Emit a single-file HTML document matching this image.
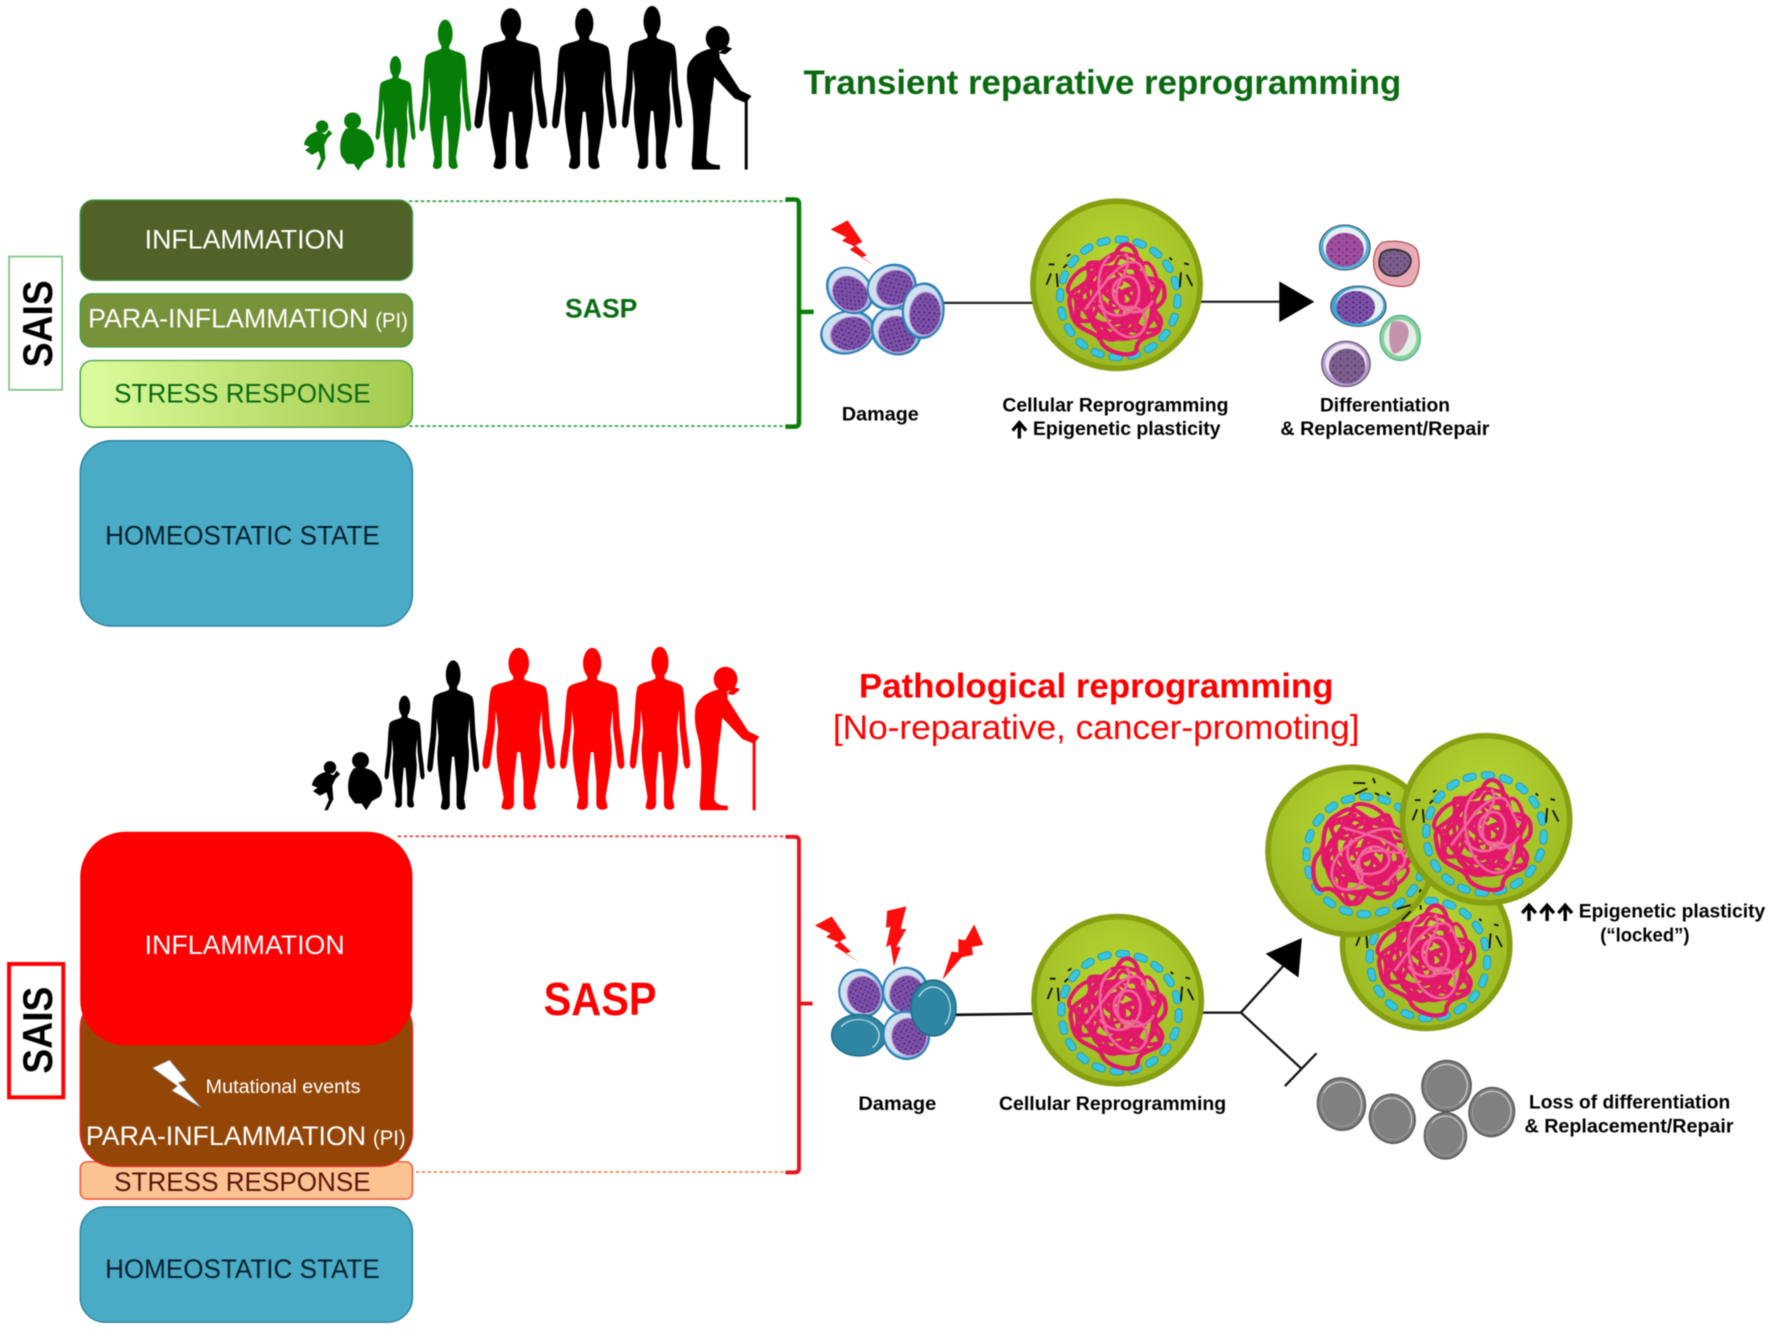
<!DOCTYPE html>
<html lang="en">
<head>
<meta charset="utf-8">
<title>Reprogramming diagram</title>
<style>
html,body{margin:0;padding:0;background:#fff}
svg{display:block;filter:blur(.4px)}
text{font-family:"Liberation Sans",sans-serif}
.b{font-weight:bold}
</style>
</head>
<body>
<svg xmlns="http://www.w3.org/2000/svg" width="1772" height="1329" viewBox="0 0 1568 1176">
<defs>
<linearGradient id="st" x1="0" x2="1" y1="0" y2="0"><stop offset="0" stop-color="#dcfd9e"/><stop offset="1" stop-color="#a3c94c"/></linearGradient>
<radialGradient id="cg" cx=".5" cy=".35" r=".7"><stop offset="0" stop-color="#b6d632"/><stop offset="1" stop-color="#9ab622"/></radialGradient>
<pattern id="dots" width="5" height="5" patternUnits="userSpaceOnUse"><rect width="5" height="5" fill="#7f52a8"/><circle cx="1.2" cy="1.2" r="1" fill="#4c2a80"/><circle cx="3.7" cy="3.5" r=".8" fill="#54308a"/></pattern>
<pattern id="dots2" width="6" height="6" patternUnits="userSpaceOnUse"><rect width="6" height="6" fill="#a04f9f"/><circle cx="1.5" cy="1.5" r="1" fill="#6e2a7c"/><circle cx="4.5" cy="4.2" r=".8" fill="#7a3388"/></pattern>
<pattern id="dots3" width="6" height="6" patternUnits="userSpaceOnUse"><rect width="6" height="6" fill="#7d5f8e"/><circle cx="1.5" cy="1.5" r="1" fill="#54386a"/><circle cx="4.5" cy="4.2" r=".8" fill="#5d4272"/></pattern>

<g id="person">
<ellipse cx="0" cy="9" rx="6.5" ry="9.5"/>
<path d="M-3.5 15 L-3.5 19 C-7 21 -14 21 -17 24 C-19 28 -19 42 -20 50 L-22 62 L-23 71 C-23 75 -19 76 -18 71 L-17 64 L-15 50 L-14.5 38 L-13 50 C-13 55 -14 58 -14 62 C-14 72 -11 84 -9.5 92 L-11 98 C-10 100.5 -3 100.5 -3 96 L-3 82 L-1 64 L1 64 L3 82 L3 96 C3 100.5 10 100.5 11 98 L9.5 92 C11 84 14 72 14 62 C14 58 13 55 13 50 L14.5 38 L15 50 L17 64 L18 71 C19 76 23 75 23 71 L22 62 L20 50 C19 42 19 28 17 24 C14 21 7 21 3.5 19 L3.5 15 Z"/>
</g>
<g id="baby">
<circle cx="285" cy="112" r="5.5"/>
<path d="M281 116 C274 118 270 122 269 128 L274 130 L270 133 L276 137 L282 134 L284 141 L280 150 L283 150 L288 140 L287 128 L290 122 L294 118 L291 115 L288 119 Z"/>
</g>
<g id="toddler">
<circle cx="312" cy="107" r="7.5"/>
<path d="M306 114 C301 120 300 130 302 138 L307 145 L313 145 L317 151 L322 143 L329 139 C333 134 331 124 325 118 C321 114 312 112 306 114 Z"/>
</g>
<g id="old">
<ellipse cx="635" cy="34" rx="10.5" ry="11"/>
<path d="M643 41 L648 43 L642 48 L636 47 Z"/>
<path d="M636 42 C622 43 608 50 608 64 C607 76 611 84 612 92 C615 112 613 130 612 146 L613 150 L637 150 L637 146 C630 146 626 144 625 140 C626 120 629 104 629 92 C631 84 631 78 632 68 L650 87 L660 91 L665 85 L655 80 L637 52 Z"/>
<rect x="659" y="86" width="2.6" height="64"/>
</g>

<g id="cellbody">
<ellipse rx="74" ry="74" fill="url(#cg)" stroke="#86a012" stroke-width="5"/>
</g>
<g id="ch1">
<path fill="none" d="M-38 8 C-44 -12 -20 -6 -24 -22 C-28 -36 -8 -20 -2 -36 C4 -50 18 -40 14 -24 C10 -8 34 -24 36 -6 C38 10 20 4 30 18 C40 32 14 26 14 40 C14 48 -10 44 -14 34 C-18 24 -36 28 -38 8 Z M-28 -10 C-10 -20 -14 10 4 -4 C20 -16 26 12 6 18 C-14 24 -6 -14 -20 14 C-26 26 0 34 10 24 C22 12 8 -20 18 -28 M-16 -28 C-12 -8 -30 4 -18 22 C-8 36 24 38 26 10 C28 -8 2 -26 -6 -8 C-12 6 12 12 16 -6 M-34 -4 C-20 8 -30 20 -10 22 C6 24 4 36 22 28"/>
</g>
<g id="nuc">
<circle r="52" fill="none" stroke="#1f9dbd" stroke-width="7" stroke-linecap="round" pathLength="200" stroke-dasharray="3.6 6.4"/>
<circle r="52" fill="none" stroke="#38c5e0" stroke-width="5.4" stroke-linecap="round" pathLength="200" stroke-dasharray="3.6 6.4"/>
<g stroke="#e2186a" stroke-width="3.4" stroke-linejoin="round">
<use href="#ch1" transform="scale(1.12)"/>
<use href="#ch1" transform="rotate(115) scale(1.02)"/>
<use href="#ch1" transform="rotate(235) scale(.9)"/>
</g>
<g stroke="#f2649c" stroke-width="2.4">
<path fill="none" d="M-8 -38 C-22 -24 -18 -4 -14 10 C-10 26 6 40 18 32 C30 22 22 6 10 8 C-4 10 -12 -10 2 -18 C14 -24 22 -10 16 4 C12 14 -4 22 -18 6 M6 -40 C14 -24 -4 -18 -2 0 C0 16 24 16 30 2 M-30 10 C-16 -8 -4 -30 12 -32 C24 -34 22 -12 32 -10"/>
</g>
<path stroke="#111" stroke-width="1.6" fill="none" d="M-62 -30 L-57 -30 M-60 -22 L-64 -12 M-55 -22 L-54 -10 M-49 -27 L-46 -30 M-46 -37 L-43 -39 M62 -30 L58 -31 M60 -21 L65 -11 M55 -23 L54 -10 M47 -34 L45 -36"/>
</g>

<g id="dc">
<ellipse rx="20" ry="20" fill="#8fc4e8" stroke="#2f7fb5" stroke-width="2"/>
<ellipse cx="-1" cy="-1" rx="18" ry="18" fill="#cfe0f0"/>
<ellipse cx="2" cy="2" rx="15.5" ry="16" fill="url(#dots)" stroke="#c9a9d8" stroke-width="1"/>
</g>
<g id="tc">
<ellipse rx="20" ry="20" fill="#2f86a3" stroke="#1c6a85" stroke-width="1.2"/>
<path d="M-13 -8 A15 15 0 0 1 13 -7 A16 16 0 0 1 10 12" fill="none" stroke="#d5e8ee" stroke-width=".9"/>
</g>
<g id="gc">
<ellipse rx="20" ry="20" fill="#808080" stroke="#5d5d5d" stroke-width="1.5"/>
<path d="M-13 -11 A17 17 0 0 1 15 -8 A17 17 0 0 1 12 12" fill="none" stroke="#d5d5d5" stroke-width=".9"/>
<path d="M13 11 A17 17 0 0 1 -15 8 A17 17 0 0 1 -13 -11" fill="none" stroke="#9a9a9a" stroke-width=".8"/>
</g>
<polygon id="bolt" points="735,203 750,195 763,214 757,217 767,226 762,228 776,236 752,221 756,218 745,213 749,210" fill="#fe0d0d"/>
</defs>

<rect width="1568" height="1176" fill="#fff"/>

<!-- top silhouettes -->
<use href="#baby" fill="#067d06"/>
<use href="#toddler" fill="#067d06"/>
<use href="#person" transform="translate(350 50) scale(.77 .99)" fill="#067d06"/>
<use href="#person" transform="translate(394 18) scale(1 1.32)" fill="#067d06"/>
<use href="#person" transform="translate(452 8) scale(1.4 1.42)" fill="#000"/>
<use href="#person" transform="translate(517 8) scale(1.24 1.42)" fill="#000"/>
<use href="#person" transform="translate(577 6) scale(1.16 1.44)" fill="#000"/>
<use href="#old" fill="#000"/>

<text class="b" x="711" y="83" font-size="30" fill="#0a6a10" textLength="529" lengthAdjust="spacingAndGlyphs">Transient reparative reprogramming</text>

<!-- top boxes -->
<rect x="8" y="227" width="47" height="118" fill="#fff" stroke="#7cc47f" stroke-width="1.5"/>
<text class="b" transform="translate(46 325) rotate(-90)" font-size="37" fill="#000" textLength="77" lengthAdjust="spacingAndGlyphs">SAIS</text>

<rect x="71" y="177" width="294" height="71" rx="12" fill="#506228" stroke="#3f9a3f" stroke-width="1.2"/>
<text x="128" y="220" font-size="24" fill="#fff" textLength="177" lengthAdjust="spacingAndGlyphs">INFLAMMATION</text>
<rect x="71" y="260" width="294" height="47" rx="10" fill="#78923a" stroke="#3f9a3f" stroke-width="1.2"/>
<text x="78" y="290" font-size="24" fill="#fff" textLength="248" lengthAdjust="spacingAndGlyphs">PARA-INFLAMMATION</text>
<text x="332" y="290" font-size="19" fill="#fff" textLength="29" lengthAdjust="spacingAndGlyphs">(PI)</text>
<rect x="71" y="319" width="294" height="59" rx="11" fill="url(#st)" stroke="#3f9a3f" stroke-width="1.2"/>
<text x="101" y="356" font-size="24" fill="#0b6a12" textLength="227" lengthAdjust="spacingAndGlyphs">STRESS RESPONSE</text>
<rect x="71" y="390" width="294" height="164" rx="28" fill="#4aabc6" stroke="#2a7f99" stroke-width="1.2"/>
<text x="93" y="482" font-size="24" fill="#04202c" textLength="243" lengthAdjust="spacingAndGlyphs">HOMEOSTATIC STATE</text>

<line x1="362" y1="178" x2="698" y2="178" stroke="#2a9d3a" stroke-width="1.4" stroke-dasharray="3 2.2"/>
<line x1="362" y1="377" x2="698" y2="377" stroke="#2a9d3a" stroke-width="1.4" stroke-dasharray="3 2.2"/>
<path d="M695 176.5 H703 Q707 176.5 707 180 V374 Q707 377.5 703 377.5 H695 M707 276 H720" fill="none" stroke="#0a7d0a" stroke-width="4"/>
<text class="b" x="500" y="281" font-size="24" fill="#0a6e14" textLength="64" lengthAdjust="spacingAndGlyphs">SASP</text>

<!-- top pathway -->
<line x1="832" y1="268" x2="914" y2="268" stroke="#222" stroke-width="2"/>
<line x1="1062" y1="267" x2="1135" y2="267" stroke="#222" stroke-width="2"/>
<polygon points="1132,249 1132,285 1163,267" fill="#000"/>
<use href="#bolt"/>
<use href="#dc" transform="translate(750 294) rotate(-15) scale(1.17 .92)"/>
<use href="#dc" transform="translate(793 293) rotate(30) scale(1.1 1)"/>
<use href="#dc" transform="translate(752 257) rotate(45) scale(1.1 .9)"/>
<use href="#dc" transform="translate(789 254) rotate(-30) scale(1.08 .95)"/>
<use href="#dc" transform="translate(817 275) rotate(5) scale(.9 1.2)"/>

<use href="#cellbody" x="988" y="252"/>
<use href="#nuc" x="990" y="264"/>

<!-- differentiated cells -->
<g transform="translate(1190 219) scale(1.12 1)"><ellipse rx="20" ry="20" fill="#4fb2dc" stroke="#444" stroke-width=".8"/><ellipse cx="0" cy="-1" rx="17" ry="17" fill="#e6eff2"/><ellipse cx="0" cy="2" rx="15" ry="15" fill="url(#dots2)"/></g>
<g transform="translate(1235 233) scale(1.03 1.02)"><path d="M-12 -18 C-4 -20 12 -20 18 -12 C21 -4 22 8 14 18 C8 22 -8 20 -14 14 C-20 8 -22 -10 -12 -18 Z" fill="#e9aab5" stroke="#a44" stroke-width="1"/><path d="M-12 -9 C-4 -15 10 -11 12 -6 C16 0 8 12 -2 11 C-10 11 -18 4 -12 -9 Z" fill="url(#dots3)" stroke="#333" stroke-width="1.6"/></g>
<g transform="translate(1202 271) scale(1.22 .9)"><ellipse rx="20" ry="20" fill="#3ea6d8" stroke="#444" stroke-width=".8"/><ellipse cx="1" cy="-1" rx="17" ry="17" fill="#e6eff2"/><ellipse cx="-2" cy="1" rx="14" ry="16" fill="url(#dots)"/></g>
<g transform="translate(1239 299) scale(.9 1)"><ellipse rx="20" ry="20" fill="#86cf9a" stroke="#4a8" stroke-width="1"/><ellipse cx="0" cy="0" rx="16" ry="16" fill="#e2f0e6"/><path d="M-8 -14 C2 -17 10 -12 8 -2 C6 6 0 14 -6 14 C-12 10 -12 -8 -8 -14 Z" fill="#c592ae"/></g>
<g transform="translate(1191 322) scale(1.07 1)"><ellipse rx="20" ry="20" fill="#b79ad2" stroke="#555" stroke-width="1"/><ellipse cx="0" cy="-1" rx="17" ry="17" fill="#ece4f1"/><ellipse cx="1" cy="2" rx="15" ry="15.5" fill="url(#dots3)"/></g>

<text class="b" x="779" y="372" font-size="17" text-anchor="middle" textLength="68" lengthAdjust="spacingAndGlyphs">Damage</text>
<text class="b" x="887" y="364" font-size="17" textLength="200" lengthAdjust="spacingAndGlyphs">Cellular Reprogramming</text>
<path d="M902 388 V376 M896 381 L902 374 L908 381" fill="none" stroke="#000" stroke-width="3"/>
<text class="b" x="914" y="385" font-size="17" textLength="166" lengthAdjust="spacingAndGlyphs">Epigenetic plasticity</text>
<text class="b" x="1168" y="364" font-size="17" textLength="115" lengthAdjust="spacingAndGlyphs">Differentiation</text>
<text class="b" x="1133" y="385" font-size="17" textLength="185" lengthAdjust="spacingAndGlyphs">&amp; Replacement/Repair</text>

<!-- bottom silhouettes -->
<use href="#baby" transform="translate(7 567)" fill="#000"/>
<use href="#toddler" transform="translate(7 566)" fill="#000"/>
<use href="#person" transform="translate(358 616) scale(.77 .99)" fill="#000"/>
<use href="#person" transform="translate(401 585) scale(1 1.32)" fill="#000"/>
<use href="#person" transform="translate(459 574) scale(1.4 1.43)" fill="#fe0000"/>
<use href="#person" transform="translate(524 574) scale(1.24 1.43)" fill="#fe0000"/>
<use href="#person" transform="translate(584 573) scale(1.16 1.44)" fill="#fe0000"/>
<use href="#old" transform="translate(7 567)" fill="#fe0000"/>

<text class="b" x="760" y="617" font-size="30" fill="#fe0000" textLength="420" lengthAdjust="spacingAndGlyphs">Pathological reprogramming</text>
<text x="737" y="654" font-size="30" fill="#fe0000" textLength="466" lengthAdjust="spacingAndGlyphs">[No-reparative, cancer-promoting]</text>

<!-- bottom boxes -->
<rect x="8" y="853" width="48" height="118" fill="#fff" stroke="#fe0000" stroke-width="3.5"/>
<text class="b" transform="translate(46 950) rotate(-90)" font-size="37" fill="#000" textLength="77" lengthAdjust="spacingAndGlyphs">SAIS</text>

<rect x="71" y="1028" width="294" height="33" rx="6" fill="#fbc392" stroke="#ee4a2a" stroke-width="1.2"/>
<text x="101" y="1054" font-size="24" fill="#5b140c" textLength="227" lengthAdjust="spacingAndGlyphs">STRESS RESPONSE</text>
<rect x="71" y="880" width="294" height="152" rx="30" fill="#944607" stroke="#e22" stroke-width="1.2"/>
<rect x="71" y="736" width="294" height="189" rx="40" fill="#fe0000"/>
<text x="128" y="844" font-size="24" fill="#fff" textLength="177" lengthAdjust="spacingAndGlyphs">INFLAMMATION</text>
<polygon points="135,945 150,938 165,956 158,958 178,980 152,965 157,961" fill="#fff" stroke="#888" stroke-width=".6"/>
<text x="182" y="967" font-size="17" fill="#fff" textLength="137" lengthAdjust="spacingAndGlyphs">Mutational events</text>
<text x="76" y="1013" font-size="24" fill="#fff" textLength="248" lengthAdjust="spacingAndGlyphs">PARA-INFLAMMATION</text>
<text x="330" y="1013" font-size="19" fill="#fff" textLength="29" lengthAdjust="spacingAndGlyphs">(PI)</text>
<rect x="71" y="1068" width="294" height="102" rx="22" fill="#4aabc6" stroke="#2a7f99" stroke-width="1.2"/>
<text x="93" y="1131" font-size="24" fill="#04202c" textLength="243" lengthAdjust="spacingAndGlyphs">HOMEOSTATIC STATE</text>

<line x1="352" y1="740" x2="697" y2="740" stroke="#ee3333" stroke-width="1.4" stroke-dasharray="3 2.2"/>
<line x1="368" y1="1037" x2="697" y2="1037" stroke="#f08040" stroke-width="1.4" stroke-dasharray="3 2.2"/>
<path d="M695 740.5 H703 Q707 740.5 707 744 V1034 Q707 1037.5 703 1037.5 H695 M707 888 H719" fill="none" stroke="#e8141c" stroke-width="3.4"/>
<text class="b" x="481" y="898" font-size="41" fill="#fe0000" textLength="100" lengthAdjust="spacingAndGlyphs">SASP</text>

<!-- bottom pathway -->
<line x1="843" y1="898" x2="916" y2="897" stroke="#111" stroke-width="2.4"/>
<path d="M1063 896 H1098 L1138 852 M1098 896 L1152 946 M1165 932 L1137 961" fill="none" stroke="#111" stroke-width="2"/>
<polygon points="1120,844 1152,830 1149,865" fill="#000"/>

<use href="#bolt" transform="translate(-14 616)"/>
<polygon points="785,806 802,802 797,822 802,822 793,838 797,838 791,855 788,836 784,838 788,820 784,821" fill="#fe0d0d"/>
<polygon points="862,818 870,836 860,838 861,845 851,847 834,867 842,842 848,843 848,831 854,832" fill="#fe0d0d"/>

<use href="#dc" transform="translate(762 879) rotate(-20) scale(.95 1.05)"/>
<use href="#dc" transform="translate(801 877) rotate(15) scale(.98 1.03)"/>
<use href="#tc" transform="translate(760 916) scale(1.2 .92)"/>
<use href="#dc" transform="translate(802 916) rotate(-15) scale(1 1.05)"/>
<use href="#tc" transform="translate(826 892) scale(1 1.23)"/>

<use href="#cellbody" x="989" y="885"/>
<use href="#nuc" x="991" y="896"/>

<use href="#cellbody" x="1262" y="836"/>
<use href="#nuc" x="1264" y="849"/>
<use href="#cellbody" x="1196" y="753"/>
<use href="#nuc" transform="translate(1208 757) rotate(70)"/>
<use href="#cellbody" x="1315" y="725"/>
<use href="#nuc" x="1314" y="738"/>

<!-- grey cells -->
<use href="#gc" transform="translate(1187 977) rotate(-10) scale(1.05 1.15)"/>
<use href="#gc" transform="translate(1232 990) rotate(-15) scale(1 1.08)"/>
<use href="#gc" transform="translate(1280 961) rotate(10) scale(1.08 1.12)"/>
<use href="#gc" transform="translate(1279 1005) scale(.93 1.02)"/>
<use href="#gc" transform="translate(1320 984) rotate(10) scale(1 1.08)"/>

<text class="b" x="794" y="982" font-size="17" text-anchor="middle" textLength="69" lengthAdjust="spacingAndGlyphs">Damage</text>
<text class="b" x="884" y="982" font-size="17" textLength="201" lengthAdjust="spacingAndGlyphs">Cellular Reprogramming</text>
<text class="b" x="1353" y="981" font-size="17" textLength="178" lengthAdjust="spacingAndGlyphs">Loss of differentiation</text>
<text class="b" x="1349" y="1002" font-size="17" textLength="185" lengthAdjust="spacingAndGlyphs">&amp; Replacement/Repair</text>
<path d="M1353 815 V803 M1347 808 L1353 801 L1359 808 M1369 815 V803 M1363 808 L1369 801 L1375 808 M1385 815 V803 M1379 808 L1385 801 L1391 808" fill="none" stroke="#000" stroke-width="3"/>
<text class="b" x="1397" y="812" font-size="17" textLength="165" lengthAdjust="spacingAndGlyphs">Epigenetic plasticity</text>
<text class="b" x="1416" y="833" font-size="17" textLength="79" lengthAdjust="spacingAndGlyphs">(“locked”)</text>
</svg>
</body>
</html>
